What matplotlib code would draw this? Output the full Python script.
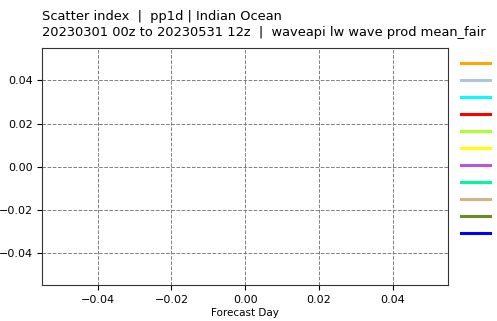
import matplotlib
matplotlib.use('Agg')
import matplotlib.pyplot as plt

# series drawn in the chart (no data in the selected window)
series_colors = ['orange', 'lightsteelblue', 'cyan', 'red', 'greenyellow',
                 'yellow', 'mediumorchid', 'mediumspringgreen', 'tan',
                 'olivedrab', 'blue']
forecast_days = []
scatter_index = []

fig = plt.figure(figsize=(4.97, 3.21), dpi=100)
ax = fig.add_axes([0.085, 0.112, 0.817, 0.738])

handles = []
for c in series_colors:
    line, = ax.plot(forecast_days, scatter_index, color=c, lw=2.2)
    handles.append(line)

ax.set_xlim(-0.055, 0.055)
ax.set_ylim(-0.055, 0.055)
ax.grid(True, ls='--', color='gray', lw=0.7)
ax.tick_params(labelsize=8)
ax.set_xlabel('Forecast Day', fontsize=7.5, labelpad=2)
for s in ax.spines.values():
    s.set_color('#333333')

ax.set_title('Scatter index  |  pp1d | Indian Ocean\n'
             '20230301 00z to 20230531 12z  |  waveapi lw wave prod mean_fair',
             loc='left', fontsize=9.4, pad=9, linespacing=1.25)

ax.legend(handles, [''] * len(handles), loc='upper left',
          bbox_to_anchor=(1.0, 1.01), frameon=False, handlelength=2.6,
          labelspacing=0.63, fontsize=8, borderaxespad=0.75)

fig.savefig('out.png', dpi=100)
